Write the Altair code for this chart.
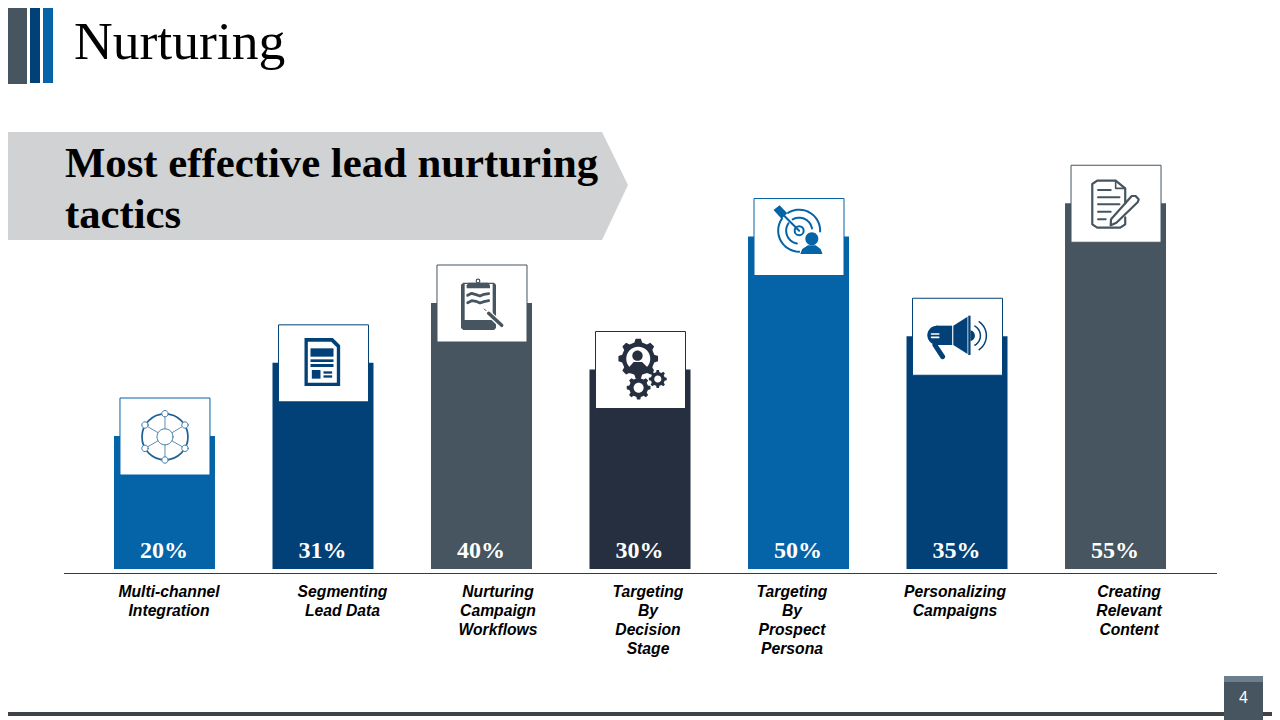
import math
import altair as alt
import pandas as pd

# ---- chart values ----
categories = ["Multi-channel Integration", "Segmenting Lead Data", "Nurturing Campaign Workflows",
              "Targeting By Decision Stage", "Targeting By Prospect Persona",
              "Personalizing Campaigns", "Creating Relevant Content"]
values = [20, 31, 40, 30, 50, 35, 55]
value_labels = ["20%", "31%", "40%", "30%", "50%", "35%", "55%"]
label_lines = ["Multi-channel\nIntegration", "Segmenting\nLead Data", "Nurturing\nCampaign\nWorkflows",
               "Targeting\nBy\nDecision\nStage", "Targeting\nBy\nProspect\nPersona",
               "Personalizing\nCampaigns", "Creating\nRelevant\nContent"]

BLUE, NAVY, SLATE, DARK = "#0563A7", "#024177", "#46555F", "#262F3F"
bar_colors = [BLUE, NAVY, SLATE, DARK, BLUE, NAVY, SLATE]

df = pd.DataFrame({"category": categories, "value": values, "label": value_labels, "color": bar_colors})

# ---- page geometry: the page margin moves the chart by 8px ----
M = 8
def X(v): return alt.value(v - M)
def Y(v): return alt.value(v - M)

x_scale = alt.Scale(type="band", domain=categories, range=[114 - M, 1166 - M], paddingInner=0.363, paddingOuter=0)
y_scale = alt.Scale(domain=[0, 80], range=[569 - M, 569 - M - 532], nice=False)
xenc = alt.X("category:N", scale=x_scale, axis=None)
yenc = alt.Y("value:Q", scale=y_scale, axis=None, stack=None)

# ---- icon glyph helpers (paths are relative to the top-centre of each bar) ----
bar_cx = [164.5, 323.5, 481.5, 640, 798.5, 956.5, 1115.5]
def tops(v): return 569 - 6.65 * v
def Z1(i): return lambda zx, zy: (zx / 3 + 100 - bar_cx[i], zy / 3 + 260 - tops(values[i]))
def Z2(i): return lambda zx, zy: (zx / 2.61 + 580 - bar_cx[i], zy / 3 + 160 - tops(values[i]))
def P(f, pts, close=True):
    q = [f(*p) for p in pts]
    return "M" + " L".join(f"{a:.2f} {b:.2f}" for a, b in q) + (" Z" if close else "")
def C(f, x, y, r):
    a, b = f(x, y)
    return f"M{a+r:.2f} {b:.2f} A{r} {r} 0 1 0 {a-r:.2f} {b:.2f} A{r} {r} 0 1 0 {a+r:.2f} {b:.2f} Z"
def ARC(f, x, y, r, a0, a1):
    a, b = f(x, y)
    n = max(6, int(abs(a1 - a0) / 8))
    pts = [(a + r * math.cos(math.radians(a0 + (a1 - a0) * k / n)), b + r * math.sin(math.radians(a0 + (a1 - a0) * k / n))) for k in range(n + 1)]
    return "M" + " L".join(f"{u:.2f} {v:.2f}" for u, v in pts)
def GEAR(f, x, y, ro, ri, n):
    a, b = f(x, y)
    pts = []
    for k in range(n):
        t = 2 * math.pi * k / n
        w = 2 * math.pi / n
        for r, d in [(ri, -0.30), (ro, -0.17), (ro, 0.17), (ri, 0.30)]:
            pts.append((a + r * math.cos(t + d * w), b + r * math.sin(t + d * w)))
    return "M" + " L".join(f"{u:.2f} {v:.2f}" for u, v in pts) + " Z"

parts = []
def solid(i, path, col): parts.append(dict(category=categories[i], value=values[i], path=path, fill=col, stroke="transparent", sw=0))
def line(i, path, col, sw): parts.append(dict(category=categories[i], value=values[i], path=path, fill="transparent", stroke=col, sw=sw))
def ringed(i, path, col, sw): parts.append(dict(category=categories[i], value=values[i], path=path, fill="white", stroke=col, sw=sw))

# network
f = Z1(0); c0 = (195, 530.5)
ring_pts = [(195, 461), (255, 495), (255, 565), (195, 600), (135, 565), (135, 495)]
for p in ring_pts:
    line(0, P(f, [c0, p], False), "#5F8FB5", 1)
line(0, C(f, c0[0], c0[1], 23), "#1F6296", 1.7)
ringed(0, C(f, c0[0], c0[1], 8), "#3F7DA8", 1)
for p in ring_pts:
    ringed(0, C(f, p[0], p[1], 3.2), "#3F7DA8", 1)

# document
f = Z1(1)
solid(1, P(f, [(615, 234), (700, 234), (722, 256), (722, 378), (615, 378)]), NAVY)
solid(1, P(f, [(625, 245), (695, 245), (712, 262), (712, 368), (625, 368)]), "white")
solid(1, P(f, [(633, 265), (702, 265), (702, 290), (633, 290)]), NAVY)
solid(1, P(f, [(633, 298), (702, 298), (702, 306), (633, 306)]), NAVY)
solid(1, P(f, [(633, 312), (702, 312), (702, 321), (633, 321)]), NAVY)
solid(1, P(f, [(637, 330), (663, 330), (663, 356), (637, 356)]), NAVY)
solid(1, P(f, [(672, 334), (698, 334), (698, 341), (672, 341)]), NAVY)
solid(1, P(f, [(672, 346), (698, 346), (698, 353), (672, 353)]), NAVY)

# clipboard
f = Z1(2)
solid(2, P(f, [(1090, 68), (1182, 68), (1188, 74), (1188, 204), (1182, 210), (1090, 210), (1083, 204), (1083, 74)]), SLATE)
solid(2, P(f, [(1094, 72), (1178, 72), (1178, 180), (1094, 180)]), "white")
solid(2, P(f, [(1106, 68), (1164, 68), (1170, 76), (1170, 85), (1100, 85), (1100, 76)]), SLATE)
line(2, C(f, 1134, 63, 1.8), SLATE, 1.2)
wave1 = [(1103, 106), (1115, 100), (1128, 104), (1140, 108), (1152, 103), (1166, 101)]
wave2 = [(1103, 128), (1115, 122), (1128, 124), (1140, 129), (1152, 125), (1166, 122)]
line(2, P(f, wave1, False), SLATE, 2.8)
line(2, P(f, wave2, False), SLATE, 2.8)
line(2, P(f, [(1152, 146), (1205, 197)], False), "white", 6)
line(2, P(f, [(1166, 160), (1205, 196)], False), SLATE, 3.5)
line(2, P(f, [(1153, 147), (1158, 152)], False), SLATE, 1)

# gears with person
f = Z2(3)
solid(3, GEAR(f, 152, 596, 20, 16.5, 8), DARK)
solid(3, C(f, 152, 596, 12), "white")
solid(3, C(f, 150, 587, 5.2), DARK)
solid(3, P(f, [(128, 622), (140, 606), (162, 606), (176, 622), (176, 640), (128, 640)]), DARK)
solid(3, GEAR(f, 153, 683, 12, 9.5, 8), DARK)
solid(3, C(f, 153, 683, 5), "white")
solid(3, GEAR(f, 203, 657, 9, 7, 8), DARK)
solid(3, C(f, 203, 657, 3.6), "white")

# target with person
f = Z2(4); tc = (572, 212)
line(4, ARC(f, tc[0], tc[1], 21, 90, 215), BLUE, 2)
line(4, ARC(f, tc[0], tc[1], 21, 238, 362), BLUE, 2)
line(4, ARC(f, tc[0], tc[1], 13, 100, 215), BLUE, 2)
line(4, ARC(f, tc[0], tc[1], 13, 240, 350), BLUE, 2)
line(4, C(f, tc[0], tc[1], 4.5), BLUE, 2)
line(4, P(f, [tc, (525, 158)], False), BLUE, 2)
solid(4, P(f, [(505, 150), (521, 136), (541, 160), (526, 176)]), BLUE)
solid(4, C(f, 605, 238, 9), "white")
solid(4, C(f, 605, 236, 6.5), BLUE)
solid(4, P(f, [(575, 282), (580, 267), (595, 256), (615, 256), (628, 267), (633, 282)]), BLUE)

# megaphone
f = Z2(5)
solid(5, C(f, 930, 526, 9.5), NAVY)
solid(5, P(f, [(928, 497), (970, 497), (970, 555), (928, 555)]), NAVY)
solid(5, P(f, [(973, 497), (1010, 470), (1010, 582), (973, 555)]), NAVY)
solid(5, P(f, [(1012, 467), (1018, 467), (1018, 585), (1012, 585)]), NAVY)
line(5, P(f, [(925, 555), (945, 590)], False), NAVY, 5)
line(5, P(f, [(916, 522), (935, 522)], False), "white", 1.6)
line(5, P(f, [(916, 532), (935, 532)], False), "white", 1.6)
solid(5, ARC(f, 1015, 527, 5.5, -80, 80), NAVY)
line(5, ARC(f, 1015, 527, 11, -60, 60), NAVY, 1.5)
line(5, ARC(f, 1015, 527, 17, -55, 55), NAVY, 1.5)

# file with pen
f = Z2(6)
line(6, P(f, [(1423, 130), (1423, 85), (1398, 62), (1350, 62), (1337, 72), (1337, 193), (1350, 203), (1410, 203), (1423, 193), (1423, 172)], False), SLATE, 2.2)
line(6, P(f, [(1398, 62), (1398, 85), (1423, 85)], False), SLATE, 1.6)
for a, b, yy in [(1352, 1385, 90), (1352, 1408, 112), (1352, 1408, 133), (1352, 1385, 155), (1352, 1372, 178)]:
    line(6, P(f, [(a, yy), (b, yy)], False), SLATE, 2)
line(6, P(f, [(1440, 108), (1450, 108), (1458, 118), (1456, 126), (1400, 188), (1385, 196), (1386, 178)]), SLATE, 2.2)

glyphs = pd.DataFrame(parts)

# ---- layers ----
def rect(x0, x1, y0, y1, col):
    return alt.Chart().mark_rect(fill=col).encode(x=X(x0), x2=X(x1), y=Y(y0), y2=Y(y1))

def txt(x, y, s, **kw):
    return alt.Chart().mark_text(**kw).encode(x=X(x), y=Y(y), text=alt.value(s))

banner_path = "M-314 -54 L288 -54 L314 -1 L288 54 L-314 54 Z"
banner = alt.Chart().mark_point(shape=banner_path, size=4, filled=True, color="#D0D2D3", opacity=1).encode(x=X(314), y=Y(186))

deco = [rect(0, 27, 0, 84, SLATE), rect(30, 40, 0, 83, NAVY), rect(43, 53, 0, 83, BLUE), banner]

heading = [
    txt(74, 59, "Nurturing", font="Liberation Serif", fontSize=53.6, align="left", baseline="alphabetic", color="#000000"),
    txt(65, 177, "Most effective lead nurturing", font="Liberation Serif", fontSize=42.75, fontWeight="bold",
        align="left", baseline="alphabetic", color="#000000"),
    txt(65, 228, "tactics", font="Liberation Serif", fontSize=42.67, fontWeight="bold",
        align="left", baseline="alphabetic", color="#000000"),
]

bars = alt.Chart(df).mark_bar(width=101, opacity=1).encode(
    x=xenc, y=yenc, y2=alt.Y2(datum=0), fill=alt.Fill("color:N", scale=None))

boxes = alt.Chart(df).mark_bar(width=90, xOffset=0.5, yOffset=-38, y2Offset=39, strokeWidth=1).encode(
    x=xenc, y=yenc, y2=alt.Y2("value:Q"), fill=alt.value("white"), stroke=alt.Stroke("color:N", scale=None))

icons = alt.Chart(glyphs).mark_point(filled=False, opacity=1, size=4, strokeCap="round", strokeJoin="round").encode(
    x=xenc, y=yenc,
    shape=alt.Shape("path:N", scale=None),
    fill=alt.Fill("fill:N", scale=None),
    stroke=alt.Stroke("stroke:N", scale=None),
    strokeWidth=alt.StrokeWidth("sw:Q", scale=None))

pct = alt.Chart(df).mark_text(font="Liberation Serif", fontSize=24, fontWeight="bold", color="white",
                              baseline="alphabetic", dx=-0.5, dy=-11).encode(
    x=xenc, y=alt.Y(datum=0, scale=y_scale, axis=None), text="label:N")

axis_line = alt.Chart().mark_rule(color="#3A3A3A", strokeWidth=1).encode(x=X(64), x2=X(1217), y=Y(573.5))

label_x = [169, 342.5, 498, 648, 792, 955, 1129]
cat_labels = [
    txt(lx, 597, s, font="Liberation Sans", fontSize=15.7, fontWeight="bold", fontStyle="italic",
        lineBreak="\n", lineHeight=19, align="center", baseline="alphabetic", color="#000000")
    for lx, s in zip(label_x, label_lines)
]

footer = [
    rect(0, 1272, 712, 716, "#3E4249"),
    rect(1224, 1263, 676, 720, SLATE),
    rect(1224, 1263, 676, 682, "#6C7F8C"),
    txt(1243.5, 703, "4", font="Liberation Sans", fontSize=16, align="center", baseline="alphabetic", color="white"),
]

chart = alt.layer(*deco, *heading, bars, boxes, icons, pct, axis_line, *cat_labels, *footer).properties(
    width=1264, height=712, padding=0, autosize=alt.AutoSizeParams(type="none"),
    background="white",
).configure_view(stroke=None)

chart.save("out.html", embed_options={"renderer": "svg", "actions": False})
